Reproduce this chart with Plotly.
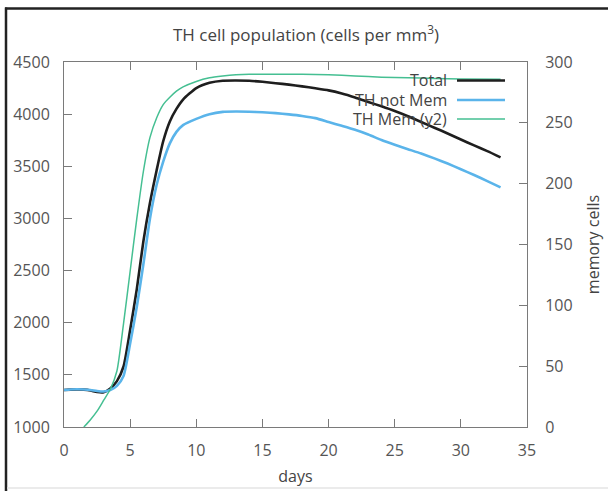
import plotly.graph_objects as go

# ---- data ----
days = [0, 0.5, 1, 1.5, 2, 2.5, 3, 3.5, 4, 4.5, 5, 5.5, 6, 6.5, 7, 7.5, 8, 8.5, 9,
        10, 11, 12, 13, 14, 15, 16, 17, 18, 19, 20, 21, 22, 23, 24, 25, 26, 27,
        28, 29, 30, 31, 32, 33]
total = [1355, 1358, 1360, 1358, 1350, 1335, 1333, 1370, 1440, 1580, 1930, 2320,
         2780, 3150, 3460, 3740, 3930, 4050, 4140, 4250, 4300, 4320, 4322, 4320,
         4310, 4297, 4283, 4266, 4248, 4228, 4198, 4160, 4117, 4075, 4030, 3980,
         3925, 3870, 3815, 3757, 3700, 3645, 3586]
not_mem = [1355, 1360, 1362, 1360, 1355, 1345, 1340, 1355, 1395, 1490, 1800, 2150,
           2560, 3000, 3320, 3545, 3720, 3830, 3895, 3955, 4000, 4022, 4025, 4023,
           4018, 4010, 3998, 3983, 3962, 3925, 3888, 3850, 3805, 3752, 3706, 3664,
           3622, 3576, 3526, 3472, 3416, 3358, 3298]

mem_days = [1.5, 2, 2.5, 3, 3.5, 4, 4.5, 5, 5.5, 6, 6.5, 7, 7.5, 8, 8.5, 9, 10, 11,
            12, 13, 14, 16, 18, 20, 22, 24, 26, 28, 30, 33]
mem = [0, 6, 13, 22, 31, 46, 85, 128, 171, 210, 238, 254, 265, 271, 276, 279.5, 284,
       287, 288.5, 289.5, 290, 290, 290, 289.5, 288.5, 287.5, 287, 286.5, 286, 285.8]

series_names = ["Total", "TH not Mem", "TH Mem (y2)"]
series_colors = ["#1e1e1e", "#5ab4ea", "#45bf92"]
series_widths = [2.6, 2.6, 1.5]

x_ticks = [0, 5, 10, 15, 20, 25, 30, 35]
y_ticks = [1000, 1500, 2000, 2500, 3000, 3500, 4000, 4500]
y2_ticks = [0, 50, 100, 150, 200, 250, 300]

FONT = "Open Sans"
TXT = "#555555"
AX = "#7a7a7a"

fig = go.Figure()
fig.add_trace(go.Scatter(x=days, y=total, mode="lines", name=series_names[0],
                         line=dict(color=series_colors[0], width=series_widths[0],
                                   shape="spline", smoothing=0.6),
                         showlegend=False))
fig.add_trace(go.Scatter(x=days, y=not_mem, mode="lines", name=series_names[1],
                         line=dict(color=series_colors[1], width=series_widths[1],
                                   shape="spline", smoothing=0.6),
                         showlegend=False))
fig.add_trace(go.Scatter(x=mem_days, y=mem, mode="lines", name=series_names[2],
                         line=dict(color=series_colors[2], width=series_widths[2],
                                   shape="spline", smoothing=0.6),
                         yaxis="y2", showlegend=False))

W, H = 608, 491
L, R, T, B = 64, 81, 62, 64
pw, ph = W - L - R, H - T - B


def px(xp):
    return (xp - L) / pw


def py(yp):
    return (H - B - yp) / ph


shapes = []
annotations = []
# gnuplot-style key: right-aligned text with line sample to its right
key_rows = [80.5, 100, 119]
for name, col, wd, yr in zip(series_names, series_colors, series_widths, key_rows):
    annotations.append(dict(x=px(449), y=py(yr), xref="paper", yref="paper",
                            text=name, showarrow=False, xanchor="right",
                            yanchor="middle", font=dict(family=FONT, size=16, color="#444")))
    shapes.append(dict(type="line", xref="paper", yref="paper", x0=px(457), x1=px(505),
                       y0=py(yr), y1=py(yr), line=dict(color=col, width=wd)))

# outer frame of the picture
shapes.append(dict(type="line", xref="paper", yref="paper", x0=px(6), x1=px(6),
                   y0=py(7.5), y1=py(491), line=dict(color="#222", width=2.5)))
shapes.append(dict(type="line", xref="paper", yref="paper", x0=px(5), x1=px(612),
                   y0=py(8.5), y1=py(8.5), line=dict(color="#222", width=2.5)))
shapes.append(dict(type="line", xref="paper", yref="paper", x0=px(7), x1=px(612),
                   y0=py(488), y1=py(488), line=dict(color="#e4e4e4", width=1.5)))

fig.update_layout(
    width=W, height=H,
    margin=dict(l=L, r=R, t=T, b=B, autoexpand=False),
    paper_bgcolor="white", plot_bgcolor="white",
    title=dict(text="TH cell population (cells per mm<sup>3</sup>)", x=px(297),
               xanchor="center", y=1 - 35 / H, yanchor="middle",
               font=dict(family=FONT, size=17, color="#444")),
    font=dict(family=FONT, size=16, color=TXT),
    xaxis=dict(range=[0, 35], tickvals=x_ticks, ticks="inside", ticklen=8,
               tickcolor=AX, showline=True, linecolor=AX, linewidth=1,
               mirror="ticks", showgrid=False, zeroline=False, automargin=False,
               ticklabelstandoff=9,
               tickfont=dict(family=FONT, size=16, color=TXT),
               title=dict(text="days", standoff=10,
                          font=dict(family=FONT, size=16, color="#444"))),
    yaxis=dict(range=[1000, 4500], tickvals=y_ticks, ticks="inside", ticklen=8,
               tickcolor=AX, showline=True, linecolor=AX, linewidth=1,
               showgrid=False, zeroline=False, ticklabelstandoff=10, automargin=False,
               tickfont=dict(family=FONT, size=16, color=TXT)),
    yaxis2=dict(range=[0, 300], tickvals=y2_ticks, ticks="inside", ticklen=8,
                tickcolor=AX, showline=True, linecolor=AX, linewidth=1,
                overlaying="y", side="right", showgrid=False, zeroline=False,
                ticklabelstandoff=14, automargin=False,
                tickfont=dict(family=FONT, size=16, color=TXT),
                title=dict(text="memory cells", standoff=16,
                           font=dict(family=FONT, size=16, color="#444"))),
    shapes=shapes,
    annotations=annotations,
)

fig.write_html("out.html")
